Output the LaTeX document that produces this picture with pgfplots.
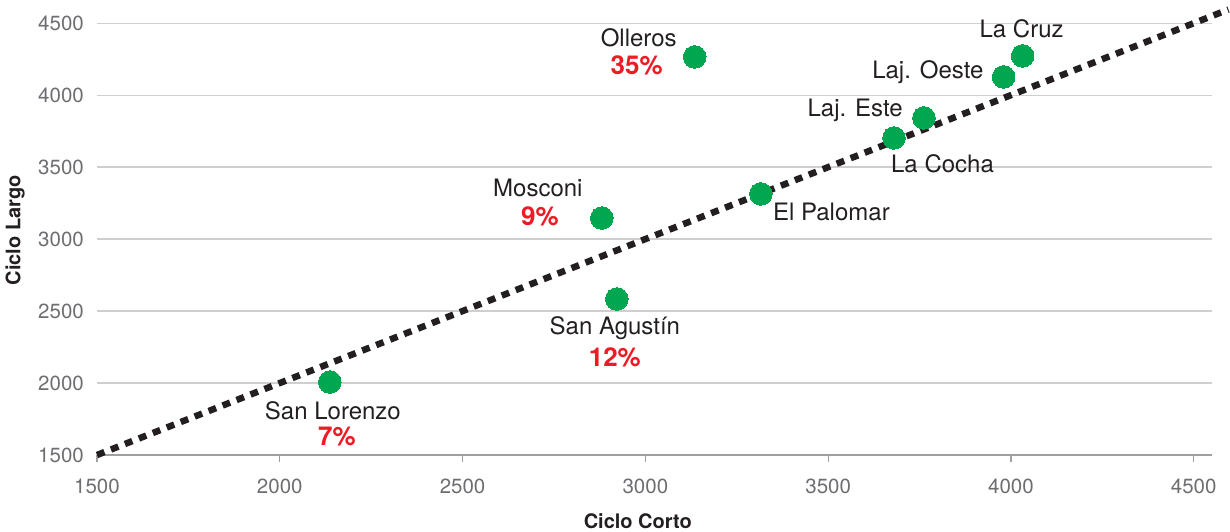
\documentclass[border=0pt]{standalone}
\usepackage{fontspec}
\setmainfont{TeX Gyre Heros}
\usepackage{pgfplots}
\pgfplotsset{compat=1.18}
\definecolor{ptgreen}{HTML}{00A650}
\definecolor{ptred}{HTML}{ED1C24}
\definecolor{ptdark}{HTML}{231F20}
\definecolor{ptgrid}{HTML}{CFCFCF}
\definecolor{ptaxis}{HTML}{A0A0A0}
\definecolor{pttick}{HTML}{6D6E71}
\begin{document}
\begin{tikzpicture}
\begin{axis}[
  at={(0,0)}, anchor=south west,
  scale only axis,
  width=1115pt, height=439pt,
  xmin=1500, xmax=4550, ymin=1500, ymax=4550,
  xtick={1500,2000,...,4500}, ytick={1500,2000,...,4500},
  axis x line*=bottom, axis y line*=left,
  y axis line style={draw=none},
  ymajorgrids, grid style={ptgrid, line width=1.3pt},
  x axis line style={ptaxis, line width=1.4pt, -},
  tick align=outside, major tick length=7pt,
  xtick style={ptaxis, line width=1.2pt},
  ytick style={draw=none},
  /pgf/number format/assume math mode=true,
  /pgf/number format/1000 sep={},
  tick label style={font=\fontsize{20.5}{20.5}\selectfont, text=pttick, inner sep=0pt},
  xticklabel style={anchor=north, yshift=-17pt},
  yticklabel style={anchor=east, xshift=-6pt},
  clip=false,
  xlabel={Ciclo Corto}, ylabel={Ciclo Largo},
  label style={font=\fontsize{20}{20}\selectfont\bfseries, text=ptdark},
  xlabel style={at={(axis description cs:0.485,0)}, anchor=center, yshift=-66pt},
  ylabel style={at={(axis description cs:-0.0735,0.512)}, anchor=center},
]
\addplot[ptdark, line width=6.5pt, dash pattern=on 8pt off 7pt, line cap=butt] coordinates {(1500,1500) (4595,4595)};
\addplot[only marks, color=ptgreen, mark=*, mark size=11.3pt, mark options={fill=ptgreen, draw=ptgreen, line width=0pt}] coordinates {
(2137,2007) (2922,2584) (2881,3147) (3135,4266) (3316,3314)
(3680,3703) (3762,3842) (3980,4127) (4032,4273)};
\tikzset{nm/.style={font=\fontsize{24}{24}\selectfont, text=ptdark, inner sep=0pt},
         pc/.style={font=\fontsize{26}{26}\selectfont\bfseries, text=ptred, inner sep=0pt}}
\node[nm, anchor=base] at (axis cs:2137,2007) [xshift=3pt, yshift=-37pt] {San Lorenzo};
\node[pc, anchor=base] at (axis cs:2137,2007) [xshift=7pt, yshift=-63pt] {7\%};
\node[nm, anchor=base] at (axis cs:2922,2584) [xshift=-2pt, yshift=-36pt] {San Agustín};
\node[pc, anchor=base] at (axis cs:2922,2584) [xshift=-2pt, yshift=-68pt] {12\%};
\node[nm, anchor=base] at (axis cs:2881,3147) [xshift=-64pt, yshift=21pt] {Mosconi};
\node[pc, anchor=base] at (axis cs:2881,3147) [xshift=-62pt, yshift=-8pt] {9\%};
\node[nm, anchor=base] at (axis cs:3135,4266) [xshift=-56pt, yshift=10pt] {Olleros};
\node[pc, anchor=base] at (axis cs:3135,4266) [xshift=-58pt, yshift=-18pt] {35\%};
\node[nm, anchor=base west] at (axis cs:3316,3314) [xshift=12pt, yshift=-27pt] {El Palomar};
\node[nm, anchor=base west] at (axis cs:3680,3703) [xshift=-3pt, yshift=-35pt] {La Cocha};
\node[nm, anchor=base east] at (axis cs:3762,3842) [xshift=-21pt, yshift=1pt] {Laj. Este};
\node[nm, anchor=base east] at (axis cs:3980,4127) [xshift=-20pt, yshift=-2pt] {Laj. Oeste};
\node[nm, anchor=base] at (axis cs:4032,4273) [xshift=-1pt, yshift=18pt] {La Cruz};
\end{axis}
\pgfresetboundingbox
\path[use as bounding box] (-97pt,-77pt) rectangle (1133pt,455pt);
\end{tikzpicture}
\end{document}
